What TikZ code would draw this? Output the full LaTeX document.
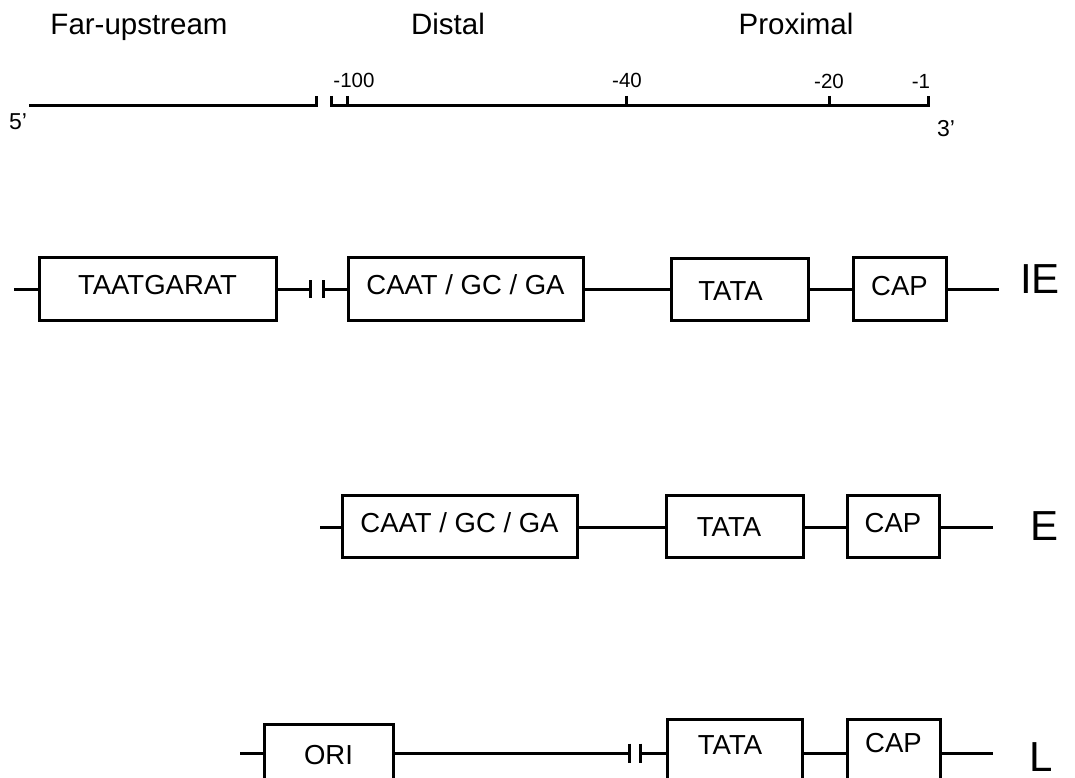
\documentclass[tikz,border=0pt]{standalone}
\usepackage{fontspec}
\setmainfont{Liberation Sans}
\begin{document}
\begin{tikzpicture}[x=1pt,y=-1pt,
  ln/.style={line width=3pt},
  box/.style={draw,line width=3pt,inner sep=0pt,text height=19.3pt,text depth=0pt,font=\fontsize{27.5}{30}\selectfont},
  head/.style={anchor=base,inner sep=0pt,font=\fontsize{29.5}{32}\selectfont},
  num/.style={anchor=base,inner sep=0pt,font=\fontsize{20.5}{23}\selectfont},
  endlab/.style={anchor=base,inner sep=0pt,font=\fontsize{23}{26}\selectfont},
  rowlab/.style={anchor=base west,inner sep=0pt,text depth=0pt,font=\fontsize{42}{46}\selectfont}]
\path[use as bounding box] (0,0) rectangle (1075,778);
\clip (0,0) rectangle (1075,778);
% headers
\node[head] (hfar) at (139,35) {Far-upstream};
\node[head] (hdis) at (448,35) {Distal};
\node[head] (hpro) at (796,35) {Proximal};
% scale
\draw[ln] (29,106) -- (316,106) -- (316,96);
\draw[ln] (331,96) -- (331,106) -- (928,106) -- (928,96);
\draw[ln] (347,96) -- (347,106);
\draw[ln] (626,96) -- (626,106);
\draw[ln] (829,96) -- (829,106);
\node[num] (n100) at (354,88) {-100};
\node[num] (n40) at (627,88) {-40};
\node[num] (n20) at (829,89) {-20};
\node[num] (n1) at (921,89) {-1};
\node[endlab] (p5) at (18,130) {5’};
\node[endlab] (p3) at (946,137) {3’};
% IE row
\coordinate (ie0) at (14,289);
\node[box,minimum width=237pt,minimum height=63pt] (ietaat) at (157.5,288.5) {\raisebox{4pt}{TAATGARAT}};
\node[box,minimum width=235pt,minimum height=63pt] (iecaat) at (465.5,288.5) {\raisebox{4pt}{CAAT / GC / GA}};
\node[box,minimum width=137pt,minimum height=62pt] (ietata) at (739.5,289) {\raisebox{-2pt}{TATA}\hspace*{18pt}};
\node[box,minimum width=93pt,minimum height=63pt] (iecap) at (899.5,288.5) {\raisebox{3pt}{CAP}};
\coordinate (ieb1) at (310,289);
\coordinate (ieb2) at (323,289);
\coordinate (ie9) at (999,289);
\draw[ln] (ie0) -- (ietaat.west |- ie0);
\draw[ln] (ietaat.east |- ie0) -- (ieb1) ++(0,-9) -- ++(0,18);
\draw[ln] (iecaat.west |- ie0) -- (ieb2) ++(0,-9) -- ++(0,18);
\draw[ln] (iecaat.east |- ie0) -- (ietata.west |- ie0);
\draw[ln] (ietata.east |- ie0) -- (iecap.west |- ie0);
\draw[ln] (iecap.east |- ie0) -- (ie9);
\node[rowlab] (lie) at (1020,293) {IE};
% E row
\coordinate (e0) at (320,527);
\node[box,minimum width=235pt,minimum height=62pt] (ecaat) at (459.5,526) {\raisebox{3pt}{CAAT / GC / GA}};
\node[box,minimum width=137pt,minimum height=62pt] (etata) at (734.5,526) {\raisebox{-1pt}{TATA}\hspace*{11pt}};
\node[box,minimum width=92pt,minimum height=62pt] (ecap) at (893,526) {\raisebox{3pt}{CAP}};
\coordinate (e9) at (993,527);
\draw[ln] (e0) -- (ecaat.west |- e0);
\draw[ln] (ecaat.east |- e0) -- (etata.west |- e0);
\draw[ln] (etata.east |- e0) -- (ecap.west |- e0);
\draw[ln] (ecap.east |- e0) -- (e9);
\node[rowlab] (le) at (1030,540) {E};
% L row
\coordinate (l0) at (240,753);
\node[box,minimum width=129pt,minimum height=62pt] (lori) at (328.5,755) {ORI};
\node[box,minimum width=135pt,minimum height=62pt] (ltata) at (734.5,750) {\raisebox{5pt}{TATA}\hspace*{9pt}};
\node[box,minimum width=93pt,minimum height=62pt] (lcap) at (893.5,750) {\raisebox{7pt}{CAP}};
\coordinate (lb1) at (629,753);
\coordinate (lb2) at (640,753);
\coordinate (l9) at (993,753);
\draw[ln] (l0) -- (lori.west |- l0);
\draw[ln] (lori.east |- l0) -- (lb1) ++(0,-9.5) -- ++(0,19);
\draw[ln] (ltata.west |- l0) -- (lb2) ++(0,-9.5) -- ++(0,19);
\draw[ln] (ltata.east |- l0) -- (lcap.west |- l0);
\draw[ln] (lcap.east |- l0) -- (l9);
\node[rowlab] (ll) at (1029,771) {L};
\end{tikzpicture}
\end{document}
